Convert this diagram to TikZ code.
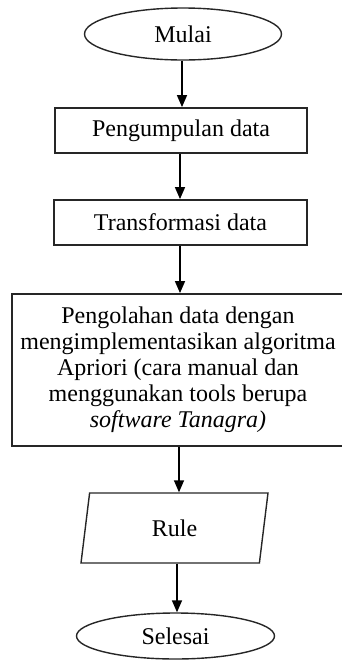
\documentclass[tikz,border=0pt]{standalone}
\usepackage{fontspec}
\setmainfont{Liberation Serif}
\usetikzlibrary{shapes.geometric,arrows.meta}
\begin{document}
\begin{tikzpicture}[x=0.5pt,y=-0.5pt,
  every node/.style={font=\fontsize{12}{13}\selectfont, text=black},
  term/.style={ellipse, draw=black!85, line width=0.7pt, inner sep=0pt},
  proc/.style={rectangle, draw=black!85, line width=0.9pt, inner sep=0pt, align=center},
  io/.style={trapezium, trapezium left angle=63, trapezium right angle=117, trapezium stretches body, draw=black!85, line width=0.7pt, inner sep=0pt},
  conn/.style={draw=black, line width=0.75pt, -{Triangle[width=5pt,length=6pt]}}]
\useasboundingbox (0,0) rectangle (342,660);
\node[term, minimum width=98.5pt, minimum height=26pt] (mulai) at (183,34) {Mulai};
\node[proc, minimum width=126pt, minimum height=22.5pt] (kumpul) at (181,130.5) {Pengumpulan data};
\node[proc, minimum width=126.5pt, minimum height=22.5pt] (trans) at (180.5,222.5) {Transformasi data};
\node[proc, minimum width=166pt, minimum height=76pt] (olah) at (178,370) {Pengolahan data dengan\\mengimplementasikan algoritma\\Apriori (cara manual dan\\menggunakan tools berupa\\\textit{software Tanagra)}};
\node[io, minimum width=93.5pt, minimum height=35pt] (rule) at (174.5,528) {Rule};
\node[term, minimum width=99pt, minimum height=23pt] (selesai) at (175.5,636) {Selesai};
\draw[conn] (mulai.south) ++(-0.5pt,0) coordinate (a1) -- (a1 |- kumpul.north);
\draw[conn] (kumpul.south) ++(-0.5pt,0) coordinate (a2) -- (a2 |- trans.north);
\draw[conn] (trans.south) ++(-0.25pt,0) coordinate (a3) -- (a3 |- olah.north);
\draw[conn] (olah.south) ++(0.5pt,0) coordinate (a4) -- (a4 |- rule.north);
\draw[conn] (selesai.north) ++(0.75pt,0) coordinate (a5) (a5 |- rule.south) -- (a5);
\end{tikzpicture}
\end{document}
